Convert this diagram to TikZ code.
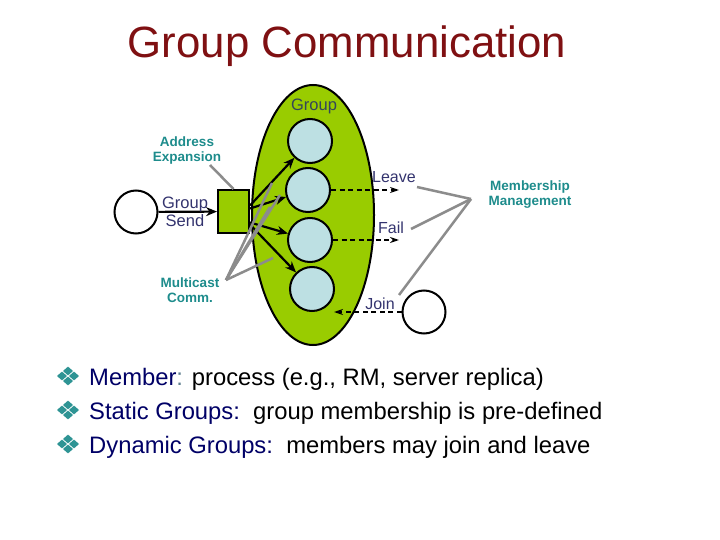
\documentclass[tikz,border=0pt]{standalone}
\usepackage{fontspec}
\setmainfont{Liberation Sans}
\usetikzlibrary{shapes.geometric,arrows.meta}
\definecolor{titred}{HTML}{7F1012}
\definecolor{grn}{HTML}{99CC00}
\definecolor{lblue}{HTML}{BDE0E3}
\definecolor{tealtx}{HTML}{1E8C8C}
\definecolor{navytx}{HTML}{33336E}
\definecolor{grouptx}{HTML}{34455A}
\definecolor{linegray}{HTML}{8C8C8C}
\definecolor{bnavy}{HTML}{000066}
\definecolor{bteal}{HTML}{2E9494}
\definecolor{colgray}{HTML}{5F7F8F}
\begin{document}
\begin{tikzpicture}[x=1pt,y=-1pt,
  member/.style={circle,draw=black,line width=2pt,fill=lblue,minimum size=44,inner sep=0},
  proc/.style={circle,draw=black,line width=2pt,fill=white,minimum size=43,inner sep=0},
  arr/.style={line width=2.2pt,-{Stealth[length=11pt,width=9pt]}},
  darr/.style={line width=2pt,dash pattern=on 5pt off 3.5pt,-{Stealth[length=9pt,width=6pt]}},
  glab/.style={font=\bfseries\fontsize{13.5}{15}\selectfont,text=tealtx,align=center,inner sep=0},
  nlab/.style={font=\fontsize{16}{18}\selectfont,text=navytx,align=center,inner sep=0},
  gline/.style={draw=linegray,line width=2.5pt},
  btext/.style={anchor=base west,font=\fontsize{23.8}{26}\selectfont,inner sep=0},
]
\useasboundingbox (0,0) rectangle (720,540);

% title
\node[anchor=base,font=\fontsize{43.8}{46}\selectfont,text=titred,inner sep=0] (title) at (347,58) {Group Communication};

% group ellipse
\node[ellipse,draw=black,line width=2pt,fill=grn,minimum width=122,minimum height=260,inner sep=0] (grp) at (313,215) {};
\node[font=\fontsize{16.5}{18}\selectfont,text=grouptx,inner sep=0] (glabel) at (314,106) {Group};

% members
\node[member] (m1) at (310,141) {};
\node[member] (m2) at (308,190) {};
\node[member] (m3) at (310,240) {};
\node[member] (m4) at (312,289) {};

% sender and box
\node[proc] (s) at (136,212) {};
\node[draw=black,line width=2pt,fill=grn,minimum width=31,minimum height=43,inner sep=0] (b) at (233.5,211.5) {};
\draw[arr] (s) -- (b);
\node[nlab,font=\fontsize{16.5}{18}\selectfont] (gs) at (185,212) {Group\\Send};

% multicast arrows
\draw[arr] ([yshift=6pt]b.east) -- (m1);
\draw[arr] ([yshift=3pt]b.east) -- (m2);
\draw[arr] ([yshift=-11pt]b.east) -- (m3);
\draw[arr] ([yshift=-13pt]b.east) -- (m4);

% address expansion
\node[glab] (ae) at (187,151) {Address\\Expansion};
\coordinate (aes) at (210,165);
\draw[gline] (aes) -- (b.north);

% multicast comm
\node[glab] (mc) at (190,290) {Multicast\\Comm.};
\coordinate (mcs) at (226,280);
\coordinate (f1) at (272,183);
\coordinate (f2) at (280,195);
\coordinate (f3) at (270,207);
\coordinate (f4) at (273,258);
\foreach \f in {f1,f2,f3,f4} \draw[gline] (mcs) -- (\f);

% leave / fail / join
\coordinate (le) at (399,190);
\coordinate (fa) at (399,240);
\draw[darr] (m2.east) -- (le);
\draw[darr] (m3.east) -- (fa);
\node[nlab] (leave) at (394,177) {Leave};
\node[nlab] (fail) at (391,228) {Fail};
\node[proc] (j) at (424,312) {};
\coordinate (jn) at (334,312);
\draw[darr] (j.west) -- (jn);
\node[nlab] (join) at (380,304) {Join};

% membership management
\node[glab] (mm) at (530,195) {Membership\\Management};
\coordinate (mmp) at (471,199);
\coordinate (l1) at (417,187);
\coordinate (l2) at (411,229);
\coordinate (l3) at (399,295);
\foreach \l in {l1,l2,l3} \draw[gline] (mmp) -- (\l);

% bullets
\foreach \yy in {376,410,444} {
  \foreach \dx/\dy in {0/-5,-6/0,6/0,0/5}
    \fill[bteal] (68+\dx,\yy+\dy-4.4) -- (68+\dx+5,\yy+\dy) -- (68+\dx,\yy+\dy+4.4) -- (68+\dx-5,\yy+\dy) -- cycle;
}
\node[btext] (t1) at (89,385) {\textcolor{bnavy}{Member}\textcolor{colgray}{:} process (e.g., RM, server replica)};
\node[btext] (t2) at (89,419) {\textcolor{bnavy}{Static Groups:}\ \ group membership is pre-defined};
\node[btext] (t3) at (89,453) {\textcolor{bnavy}{Dynamic Groups:}\ \ members may join and leave};
\end{tikzpicture}
\end{document}
